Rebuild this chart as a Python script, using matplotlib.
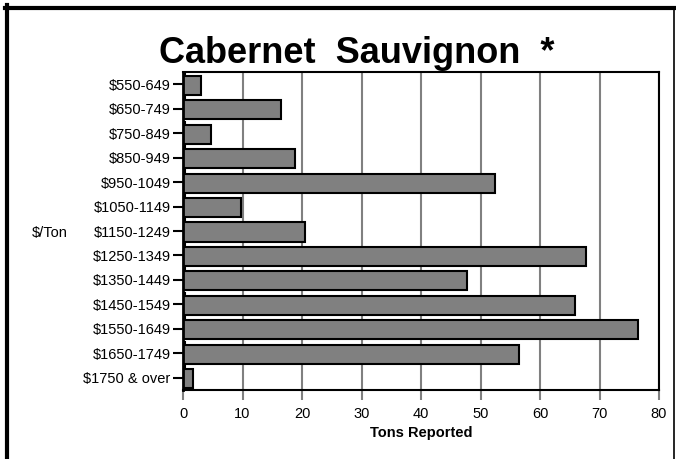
import numpy as np
import matplotlib.pyplot as plt
from matplotlib.lines import Line2D

categories = ['$550-649', '$650-749', '$750-849', '$850-949', '$950-1049',
              '$1050-1149', '$1150-1249', '$1250-1349', '$1350-1449',
              '$1450-1549', '$1550-1649', '$1650-1749', '$1750 & over']
tons = [3.0, 16.5, 4.7, 18.8, 52.4, 9.8, 20.5, 67.7, 47.8, 65.9, 76.4, 56.5, 1.7]
# tiny second series that shows as small dark marks above each bar
small = [0.3, 0.3, 0.3, 0.3, 0.3, 0.3, 0.3, 0.3, 0.3, 0.3, 0.3, 0.3, 0.3]
x_ticks = [0, 10, 20, 30, 40, 50, 60, 70, 80]

plt.rcParams['font.family'] = ['Liberation Sans', 'DejaVu Sans']

fig = plt.figure(figsize=(6.76, 4.59), dpi=100)
ax = fig.add_axes([183/676, 1 - 390/459, 476/676, 318/459])

y = np.arange(len(categories))
ax.barh(y + 0.04, tons, height=0.78, color='#808080', edgecolor='black',
        linewidth=1.5, zorder=3)
ax.barh(y - 0.44, small, height=0.07, color='black',
        edgecolor='black', linewidth=1.5, zorder=3)

ax.set_xlim(0, 80)
ax.set_ylim(len(categories) - 0.5, -0.5)
ax.set_xticks(x_ticks)
ax.set_yticks(y)
ax.set_yticklabels(categories)
ax.xaxis.grid(True, color='#808080', linewidth=1.5, zorder=0)
ax.tick_params(axis='x', colors='#808080', length=7, width=1.5, labelcolor='black',
               labelsize=10.5, pad=5)
ax.tick_params(axis='y', colors='black', length=7, width=1.5, labelsize=10.5, pad=2)
for s in ax.spines.values():
    s.set_linewidth(1.5)
    s.set_zorder(4)
ax.spines['left'].set_linewidth(2)

ax.set_xlabel('Tons Reported', fontsize=10.5, fontweight='bold', labelpad=4)
fig.text(50/676, 1 - 233/459, '$/Ton', fontsize=10.5, ha='center', va='center')

fig.text(357/676, 1 - 63/459, 'Cabernet  Sauvignon  *', fontsize=26,
         fontweight='bold', ha='center', va='baseline')

# outer frame
fig.add_artist(Line2D([7/676, 7/676], [0, 1 - 5/459], color='black', linewidth=3))
fig.add_artist(Line2D([5/676, 675/676], [1 - 7.5/459, 1 - 7.5/459], color='black', linewidth=3))
fig.add_artist(Line2D([673.5/676, 673.5/676], [0, 1 - 7/459], color='black', linewidth=1.2))

fig.savefig('out.png', dpi=100)
